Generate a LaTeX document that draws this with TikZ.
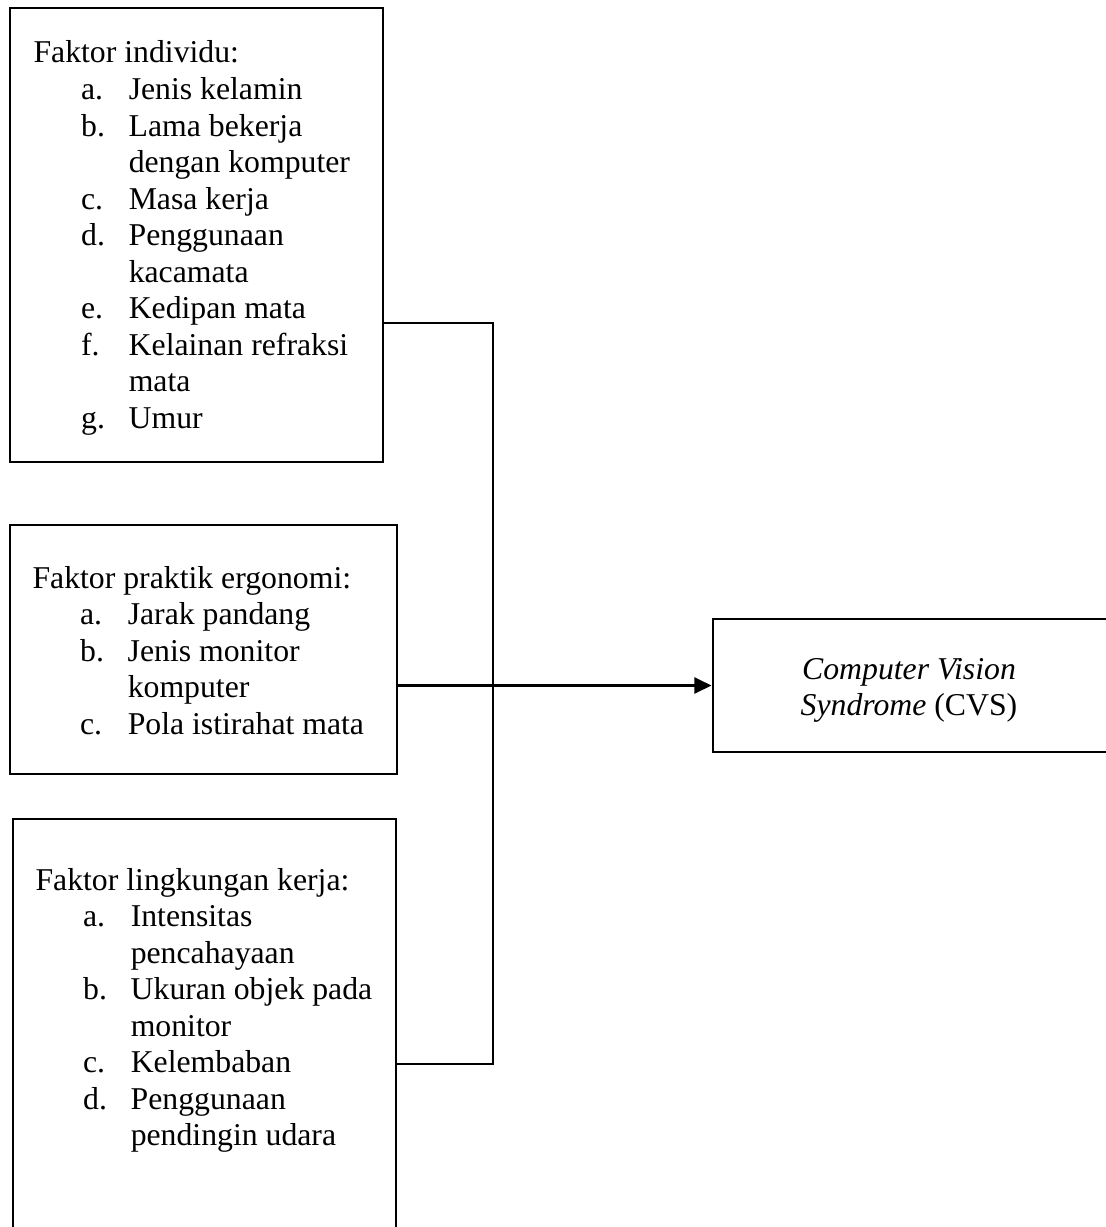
\documentclass[tikz,border=0pt]{standalone}
\usepackage{fontspec}
\setmainfont{Liberation Serif}
\usetikzlibrary{arrows.meta}

\begin{document}
\begin{tikzpicture}[x=0.378pt, y=-0.378pt,
    faktorbox/.style={draw, line width=1.1pt, inner sep=0pt},
    faktortext/.style={anchor=base west, inner sep=0pt, font=\fontsize{12}{13.8}\selectfont},
    link/.style={line width=1.1pt}]
  \useasboundingbox (0,0) rectangle (1105,1227);
  \node[faktorbox, minimum width=373*0.378pt, minimum height=454*0.378pt] (ind) at (196.5,235) {};
  \node[faktorbox, minimum width=387*0.378pt, minimum height=249*0.378pt] (prak) at (203.5,649.5) {};
  \node[faktorbox, minimum width=383*0.378pt, minimum height=421*0.378pt] (ling) at (204.5,1029.5) {};
  \node[faktorbox, minimum width=395*0.378pt, minimum height=133*0.378pt] (cvs) at (910.5,685.5) {};
  \node[faktortext] (indtext) at (33,63) {%
    \begin{tabular}[t]{@{\hspace{18pt}}p{18pt}@{}l@{}}
      \multicolumn{2}{@{}l@{}}{Faktor individu:}\\
      a. & Jenis kelamin\\
      b. & Lama bekerja\\
         & dengan komputer\\
      c. & Masa kerja\\
      d. & Penggunaan\\
         & kacamata\\
      e. & Kedipan mata\\
      f. & Kelainan refraksi\\
         & mata\\
      g. & Umur
    \end{tabular}};
  \node[faktortext] (praktext) at (32,588) {%
    \begin{tabular}[t]{@{\hspace{18pt}}p{18pt}@{}l@{}}
      \multicolumn{2}{@{}l@{}}{Faktor praktik ergonomi:}\\
      a. & Jarak pandang\\
      b. & Jenis monitor\\
         & komputer\\
      c. & Pola istirahat mata
    \end{tabular}};
  \node[faktortext] (lingtext) at (35,890) {%
    \begin{tabular}[t]{@{\hspace{18pt}}p{18pt}@{}l@{}}
      \multicolumn{2}{@{}l@{}}{Faktor lingkungan kerja:}\\
      a. & Intensitas\\
         & pencahayaan\\
      b. & Ukuran objek pada\\
         & monitor\\
      c. & Kelembaban\\
      d. & Penggunaan\\
         & pendingin udara
    \end{tabular}};
  \node[faktortext, anchor=base] (cvstext) at (909,679) {%
    \begin{tabular}[t]{@{}c@{}}
      \textit{Computer Vision}\\
      \textit{Syndrome} (CVS)
    \end{tabular}};
  \coordinate (jtop) at (493,323);
  \coordinate (jbot) at (493,1064);
  \draw[link] (ind.east |- jtop) -- (jtop) -- (jbot) -- (ling.east |- jbot);
  \draw[link, -{Triangle[length=6.5pt, width=6pt]}] (prak.east |- cvs.west) -- (cvs.west);
\end{tikzpicture}
\end{document}
